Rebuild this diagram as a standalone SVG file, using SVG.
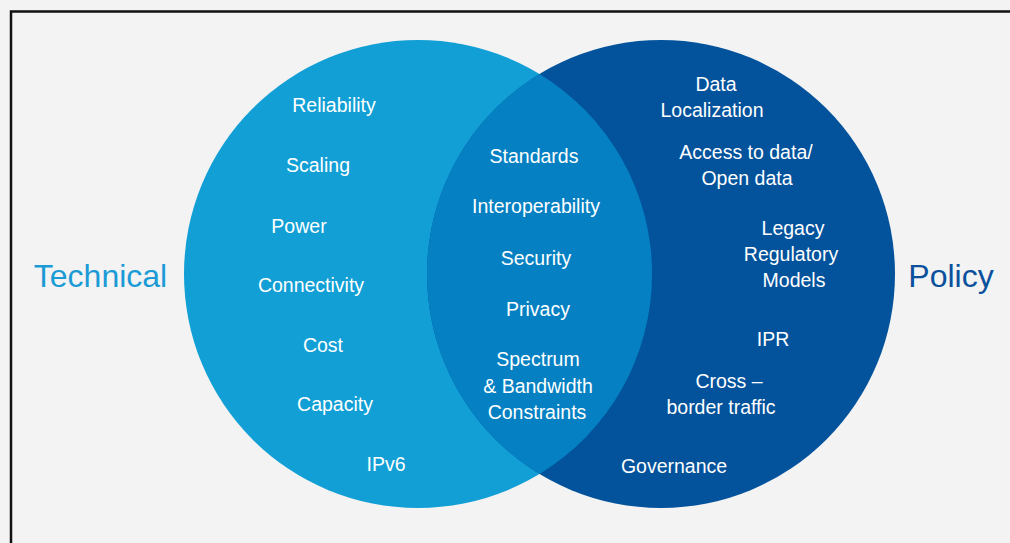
<svg xmlns="http://www.w3.org/2000/svg" width="1010" height="543" viewBox="0 0 1010 543">
  <style>
    .item { font-family: "Liberation Sans", Arial, sans-serif; font-size: 19.5px; fill: #ffffff; text-anchor: middle; }
    .title { font-family: "Liberation Sans", Arial, sans-serif; font-size: 32px; text-anchor: middle; }
  </style>
  <rect x="0" y="0" width="1010" height="543" fill="#f3f3f3"/>
  <g id="frame" fill="none" stroke="#111111" stroke-width="2.5">
    <path d="M 11 543 L 11 11.5 L 1010 11.5"/>
  </g>
  <g id="technical">
    <circle cx="418" cy="274" r="234" fill="#129fd5"/>
    <text class="title" x="100.5" y="287" fill="#1a9bd6">Technical</text>
    <text class="item" x="334" y="112">Reliability</text>
    <text class="item" x="318" y="172">Scaling</text>
    <text class="item" x="299" y="233">Power</text>
    <text class="item" x="311" y="292">Connectivity</text>
    <text class="item" x="323" y="352">Cost</text>
    <text class="item" x="335" y="411">Capacity</text>
    <text class="item" x="386" y="471">IPv6</text>
  </g>
  <g id="policy">
    <circle cx="661" cy="274" r="234" fill="#02529c"/>
    <text class="title" x="951" y="287" fill="#0a509c">Policy</text>
    <text class="item" x="716" y="91">Data</text>
    <text class="item" x="712" y="117">Localization</text>
    <text class="item" x="746" y="159">Access to data/</text>
    <text class="item" x="747" y="185">Open data</text>
    <text class="item" x="793" y="235">Legacy</text>
    <text class="item" x="791" y="261">Regulatory</text>
    <text class="item" x="794" y="287">Models</text>
    <text class="item" x="773" y="346">IPR</text>
    <text class="item" x="729" y="388">Cross –</text>
    <text class="item" x="721" y="414">border traffic</text>
    <text class="item" x="674" y="473">Governance</text>
  </g>
  <g id="overlap">
    <path d="M 539.5 74 A 234 234 0 0 1 539.5 474 A 234 234 0 0 1 539.5 74 Z" fill="#0581c3"/>
    <text class="item" x="534" y="163">Standards</text>
    <text class="item" x="536" y="213">Interoperability</text>
    <text class="item" x="536" y="265">Security</text>
    <text class="item" x="538" y="316">Privacy</text>
    <text class="item" x="538" y="366">Spectrum</text>
    <text class="item" x="538" y="393">&amp; Bandwidth</text>
    <text class="item" x="537" y="419">Constraints</text>
  </g>
  <g id="connectors"/>
</svg>
